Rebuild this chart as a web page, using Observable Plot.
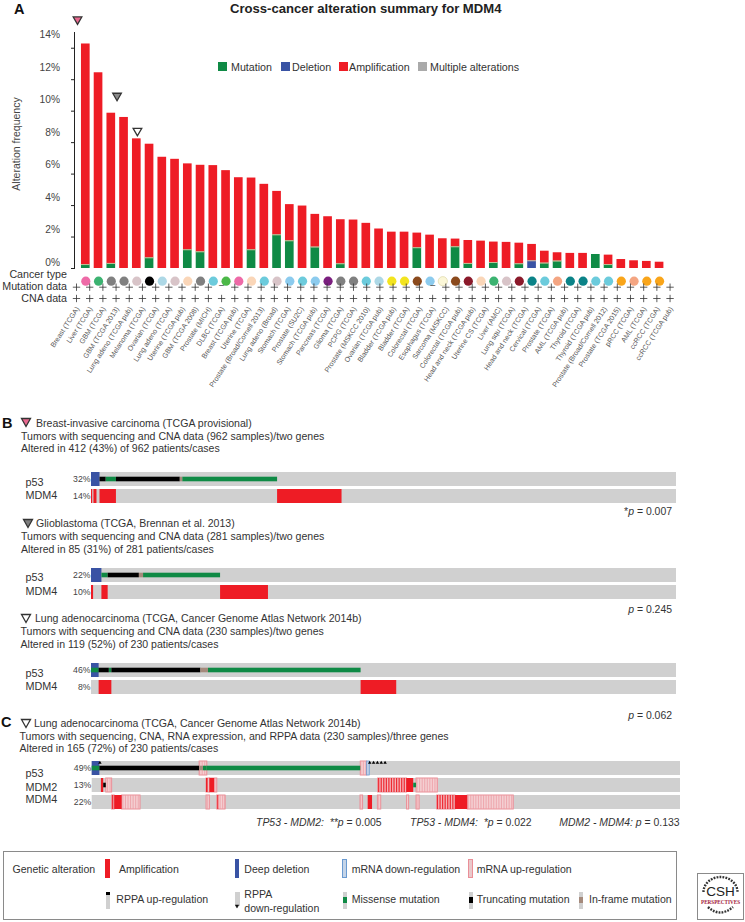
<!DOCTYPE html>
<html>
<head>
<meta charset="utf-8">
<script src="https://cdn.jsdelivr.net/npm/d3@7"></script>
<script src="https://cdn.jsdelivr.net/npm/@observablehq/plot@0.6"></script>
<style>
html,body{margin:0;padding:0;background:#fff;}
#page{position:relative;width:745px;height:922px;overflow:hidden;font-family:"Liberation Sans",Arial,sans-serif;color:#333;}
#page svg{position:absolute;}
.t{position:absolute;white-space:nowrap;line-height:1.2;transform:translateY(-50%);}
.s{position:absolute;box-sizing:border-box;}
</style>
</head>
<body>
<div id="page"></div>
<script>
// ---------- Panel A data ----------
const studies = ["Breast (TCGA)","Liver (TCGA)","GBM (TCGA)","GBM (TCGA 2013)","Lung adeno (TCGA pub)","Melanoma (TCGA)","Ovarian (TCGA)","Lung adeno (TCGA)","Uterine (TCGA pub)","GBM (TCGA 2008)","Prostate (MICH)","DLBC (TCGA)","Breast (TCGA pub)","Uterine (TCGA)","Prostate (Broad/Cornell 2013)","Lung adeno (Broad)","Stomach (TCGA)","Prostate (SU2C)","Stomach (TCGA pub)","Pancreas (TCGA)","Glioma (TCGA)","PCPG (TCGA)","Prostate (MSKCC 2010)","Ovarian (TCGA pub)","Bladder (TCGA pub)","Bladder (TCGA)","Colorectal (TCGA)","Esophagus (TCGA)","Sarcoma (MSKCC)","Colorectal (TCGA pub)","Head and neck (TCGA pub)","Uterine CS (TCGA)","Liver (AMC)","Lung squ (TCGA)","Head and neck (TCGA)","Cervical (TCGA)","Prostate (TCGA)","AML (TCGA pub)","Thyroid (TCGA)","Thyroid (TCGA pub)","Prostate (Broad/Cornell 2012)","Prostate (TCGA 2015)","pRCC (TCGA)","AML (TCGA)","ccRCC (TCGA)","ccRCC (TCGA pub)"];
const totals = [14.27,12.44,9.87,9.60,8.24,7.90,7.07,6.94,6.65,6.56,6.54,6.22,5.77,5.75,5.35,4.90,4.06,3.97,3.44,3.29,3.10,3.08,2.87,2.51,2.31,2.31,2.25,2.12,1.89,1.87,1.78,1.74,1.68,1.66,1.61,1.53,1.10,1.00,0.96,0.96,0.89,0.85,0.57,0.49,0.45,0.40];
const mutation = [0.25,0,0.32,0,0,0.68,0,0,1.19,1.06,0,0,0,1.19,0,2.14,1.76,0,1.36,0,0.30,0,0,0,0,0,1.32,0,0,1.38,0.32,0,0.38,0,0.30,0,0.34,0.47,0,0,0.89,0.25,0,0,0,0];
const deletion = [0,0,0,0,0,0,0,0,0,0,0,0,0,0,0,0,0,0,0,0,0,0,0,0,0,0,0,0,0,0,0,0,0,0,0,0.49,0,0,0,0,0,0,0,0,0,0];
const typeColors = ["#ee6aa7","#3cb371","#808080","#808080","#d8c4c8","#000000","#add8e6","#d8c4c8","#fad6b8","#808080","#6ccbdc","#4cb848","#ee6aa7","#fad6b8","#6ccbdc","#d8c4c8","#8ccbee","#6ccbdc","#8ccbee","#7b1f7f","#808080","#808080","#6ccbdc","#add8e6","#f3e41f","#f3e41f","#8b4a1d","#8ccbee","#fbf7d8","#8b4a1d","#8b1a2b","#fad6b8","#3cb371","#d8c4c8","#8b1a2b","#0b8388","#6ccbdc","#f4a582","#0b8388","#0b8388","#6ccbdc","#6ccbdc","#f9a51a","#f4a582","#f9a51a","#f9a51a"];
const noMutationData = [11,27];
const yTicks = [0,2,4,6,8,10,12,14];
const flags = [{i:-0.65,fill:"#e8688f",top:15.83},{i:2.45,fill:"#8a8a8a",top:10.98},{i:4.05,fill:"#ffffff",top:8.75}];

const RED="#ee1c25",GREEN="#0f8a45",BLUE="#3953a4",GRAY="#d0d0d0",BROWN="#a58a7c";

const stack = studies.flatMap((s,i)=>[
  {i,y1:0,y2:mutation[i],fill:GREEN},
  {i,y1:mutation[i],y2:mutation[i]+deletion[i],fill:BLUE},
  {i,y1:mutation[i]+deletion[i],y2:totals[i],fill:RED}
].filter(d=>d.y2>d.y1));

const page = document.getElementById("page");
const gridX = i => -0.729 + i*1.0345;   // the label/flag grid runs slightly wider than the bars
const plotStyle = {background:"transparent",overflow:"visible",fontFamily:"'Liberation Sans',Arial,sans-serif"};

const main = Plot.plot({
  width:745,height:400,marginTop:32,marginBottom:132,marginLeft:74,marginRight:0,
  style:plotStyle,
  x:{domain:[-0.886,51.74],axis:null},
  y:{domain:[0,15],axis:null},
  marks:[
    Plot.rect(stack,{x1:d=>d.i-0.34,x2:d=>d.i+0.34,y1:"y1",y2:"y2",fill:"fill"}),
    Plot.ruleY(stack.filter(d=>d.y1>0),{x1:d=>d.i-0.34,x2:d=>d.i+0.34,y:"y1",stroke:"#d9c6a0",strokeWidth:0.9}),
    Plot.frame({anchor:"left",stroke:"#222"}),
    Plot.axisY({ticks:yTicks,tickSize:3,tickFormat:()=>"",label:null,stroke:"#222"}),
    Plot.text(yTicks,{x:-0.886,y:d=>0.38+d*1.033,text:d=>d+"%",dx:-14.5,textAnchor:"end",fontSize:10.2,fill:"#444"}),
    Plot.dot(flags,{x:"i",y:"top",symbol:"triangle",rotate:180,r:3.2,fill:"fill",stroke:"#333",strokeWidth:1.3}),
    Plot.dot(studies,{x:(d,i)=>i,y:()=>0,dy:12.7,r:4.6,fill:(d,i)=>typeColors[i],stroke:(d,i)=>typeColors[i]==="#fbf7d8"?"#d8d2a0":"none",strokeWidth:0.6}),
    Plot.dot(studies.filter((d,i)=>!noMutationData.includes(i)),{x:d=>gridX(studies.indexOf(d)),y:()=>0,dy:18.7,symbol:"plus",r:2.5,stroke:"#333",strokeWidth:0.8}),
    Plot.text(noMutationData,{x:d=>gridX(d),y:()=>0,dy:17,text:()=>"–",fontSize:9,fill:"#333"}),
    Plot.dot(studies,{x:(d,i)=>gridX(i),y:()=>0,dy:30,symbol:"plus",r:2.5,stroke:"#333",strokeWidth:0.8}),
    Plot.text(studies,{x:(d,i)=>gridX(i),y:()=>0,dx:1.3,dy:39,text:d=>d,rotate:-57,textAnchor:"end",fontSize:7.1,fill:"#555"})
  ]
});
main.style.left="0";main.style.top="0";
page.appendChild(main);

// ---------- Panels B, C data: sample ranges [start, end, kind] along each patient axis ----------
const b1 = {n:962,genes:["p53","MDM4"],pct:["32%","14%"],p53:[[0,14,"del"],[14,24,"trunc"],[24,41,"miss"],[41,146,"trunc"],[146,150,"infr"],[150,306,"miss"]],MDM4:[[0,2,"amp"],[4,9,"amp"],[14,41,"amp"],[306,412,"amp"]]};
const b2 = {n:281,genes:["p53","MDM4"],pct:["22%","10%"],p53:[[0,5,"del"],[5,8,"miss"],[8,23,"trunc"],[23,25,"infr"],[25,62,"miss"]],MDM4:[[0,1,"amp"],[5,8,"amp"],[62,85,"amp"]]};
const b3 = {n:230,genes:["p53","MDM4"],pct:["46%","8%"],p53:[[0,3,"del"],[0,3,"miss"],[3,7,"trunc"],[7,8,"miss"],[8,43,"trunc"],[43,46,"infr"],[46,106,"miss"]],MDM4:[[3,8,"amp"],[106,120,"amp"]]};
const c1 = {n:230,genes:["p53","MDM2","MDM4"],pct:["49%","13%","22%"],
  p53:[[0,3,"del"],[0,3,"miss"],[3,42,"trunc"],[42,45,"up"],[42,43.5,"infr"],[43.5,45,"miss"],[45,105,"miss"],[105,107.5,"up"],[107.5,108.5,"down"]],
  MDM2:[[3.6,4.5,"amp"],[4.5,5.5,"trunc"],[5.5,7.8,"up"],[44.7,46,"up"],[44.7,45.3,"amp"],[46,48.9,"up"],[46,47.9,"amp"],[111.8,123.1,"upamp"],[123.1,125.7,"amp"],[125.7,126.8,"miss"],[126.8,135.1,"up"]],
  MDM4:[[7.8,8.8,"upamp"],[8.8,11.7,"amp"],[11.7,18.9,"up"],[44.7,46,"up"],[48.9,52.1,"up"],[49.1,49.5,"amp"],[104.9,105.9,"up"],[107.9,109.6,"amp"],[111.7,113,"up"],[123.1,123.9,"up"],[126.8,128,"up"],[134.9,142,"upamp"],[142,146.8,"amp"],[146.8,164.8,"up"]],
  rppa:[3,108.5,110,111.5,113,114.5]};

function track(d,{top,right,left=91,shift}){
  const rows = d.genes.flatMap(g=>d[g].map(([s,e,k])=>({gene:g,s,e,k})));
  const of = (...k)=>rows.filter(r=>k.includes(r.k));
  const stripes = k=>of(k).flatMap(r=>d3.range(Math.ceil(r.s),r.e).map(x=>({gene:r.gene,x})));
  const inner = {x1:"s",x2:"e",y:"gene",insetTop:4.7,insetBottom:4.7};
  const full = {x1:"s",x2:"e",y:"gene"};
  const p = Plot.plot({
    width:745,height:d.genes.length*17-3,marginTop:0,marginBottom:0,marginLeft:left,marginRight:745-right,style:plotStyle,
    x:{domain:[0,d.n],axis:null},
    y:{type:"band",domain:d.genes,paddingInner:3/17,paddingOuter:0,round:false,axis:null},
    marks:[
      Plot.barX(d.genes,{x1:()=>0,x2:()=>d.n,y:g=>g,fill:GRAY}),
      Plot.barX(of("up"),{...full,fill:"#f4cfd2",stroke:"#ea8f98",strokeWidth:1}),
      Plot.tickX(stripes("up"),{x:"x",y:"gene",stroke:"#ec9ca3",strokeWidth:0.8}),
      Plot.barX(of("upamp"),{...full,fill:"#f4b4b8",stroke:"#ea8f98",strokeWidth:1}),
      Plot.tickX(stripes("upamp"),{x:"x",y:"gene",stroke:"#ee2a32",strokeWidth:1.2}),
      Plot.barX(of("down"),{...full,fill:"#c4d4e8",stroke:"#6a9ad0",strokeWidth:0.8}),
      Plot.barX(of("amp"),{...full,fill:RED}),
      Plot.barX(of("del"),{...full,fill:BLUE}),
      Plot.barX(of("miss"),{...inner,fill:GREEN}),
      Plot.barX(of("trunc"),{...inner,fill:"#000"}),
      Plot.barX(of("infr"),{...inner,fill:BROWN}),
      Plot.dot((d.rppa||[]).map(x=>({x,gene:"p53"})),{x:"x",y:"gene",symbol:"triangle",r:1.3,fill:"#000",dy:-5.8}),
      Plot.text(d.genes,{x:()=>0,y:g=>g,text:(g,i)=>d.pct[i],dx:-1,textAnchor:"end",fontSize:8.7,fill:"#444"}),
      // gene names are set tighter than the tracks in the reference
      ...d.genes.map((g,i)=>Plot.text([g],{x:()=>0,y:v=>v,text:v=>v,dx:25-left,dy:shift[i],textAnchor:"start",fontSize:10.8,fill:"#333"}))
    ]
  });
  p.style.left="0";p.style.top=top+"px";
  page.appendChild(p);
}
track(b1,{top:472,right:676,shift:[3,-1]});
track(b2,{top:567.5,right:676,shift:[2.5,-1]});
track(b3,{top:663.3,right:676,shift:[2.7,-1.3]});
track(c1,{top:760.7,right:680,left:91.7,shift:[5.3,2,-3]});

// ---------- Text ----------
const FS=10.55;
function txt(s,x,y,size=FS,extra={}){
  const e=document.createElement("div");e.className="t";e.innerHTML=s;
  e.style.left=x+"px";e.style.top=y+"px";e.style.fontSize=size+"px";
  Object.assign(e.style,extra);page.appendChild(e);return e;
}
function tri(x,y,fill,k=1){
  const ns="http://www.w3.org/2000/svg",sv=document.createElementNS(ns,"svg");
  sv.setAttribute("width",12);sv.setAttribute("height",11);sv.style.left=(x-6)+"px";sv.style.top=(y-5.5)+"px";
  sv.innerHTML=`<polygon transform="translate(6,5.5) scale(${k}) translate(-6,-5.5)" points="1.5,1.5 10.5,1.5 6,9.5" fill="${fill}" stroke="#333" stroke-width="1.3"/>`;
  page.appendChild(sv);
}
txt("Cross-cancer alteration summary for MDM4",230,8.5,13.1,{fontWeight:"bold",color:"#222"});
txt("A",14,9.5,14.5,{fontWeight:"bold",color:"#111"});
txt("B",2,423.5,14.5,{fontWeight:"bold",color:"#111"});
txt("C",1,722.5,14.5,{fontWeight:"bold",color:"#111"});
txt("Alteration frequency",16,144,10.5,{transform:"translate(-50%,-50%) rotate(-90deg)",color:"#444"});
[["Cancer type",274],["Mutation data",286],["CNA data",297.7]].forEach(([s,y])=>txt(s,0,y,10.7,{left:"auto",right:(745-67)+"px"}));

const legendA=[["Mutation",GREEN,218,231],["Deletion",BLUE,281,292],["Amplification",RED,339,349],["Multiple alterations","#aaaaaa",418,430]];
legendA.forEach(([s,c,a,b])=>{
  const k=document.createElement("div");k.className="s";
  Object.assign(k.style,{left:a+"px",top:"62px",width:"9px",height:"9px",background:c});page.appendChild(k);
  txt(s,b,66.5,10.7);
});

const head=[
 [36,423,"Breast-invasive carcinoma (TCGA provisional)","#e8688f",25.7,422.5,21,436,448,
  "Tumors with sequencing and CNA data (962 samples)/two genes","Altered in 412 (43%) of 962 patients/cases"],
 [36,523,"Glioblastoma (TCGA, Brennan et al. 2013)","#7f7f7f",28,523.5,21,536,548.5,
  "Tumors with sequencing and CNA data (281 samples)/two genes","Altered in 85 (31%) of 281 patients/cases"],
 [35,618,"Lung adenocarcinoma (TCGA, Cancer Genome Atlas Network 2014b)","#fff",25.7,618,20.5,631,643.5,
  "Tumors with sequencing and CNA data (230 samples)/two genes","Altered in 119 (52%) of 230 patients/cases"],
 [34,723,"Lung adenocarcinoma (TCGA, Cancer Genome Atlas Network 2014b)","#fff",25.7,723,19.5,735.7,748,
  "Tumors with sequencing, CNA, RNA expression, and RPPA data (230 samples)/three genes","Altered in 165 (72%) of 230 patients/cases"]];
head.forEach(h=>{
  txt(h[2],h[0],h[1]);tri(h[4],h[5],h[3]);
  txt(h[9],h[6],h[7]);txt(h[10],h[6],h[8]);
});
const pv=[["*<i>p</i> = 0.007",512],["<i>p</i> = 0.245",609.5],["<i>p</i> = 0.062",716]];
pv.forEach(([s,y])=>txt(s,0,y,10.45,{left:"auto",right:(745-672)+"px"}));
txt("<i>TP53 - MDM2:&nbsp; **p</i> = 0.005",256,822.7,10.45);
txt("<i>TP53 - MDM4:&nbsp; *p</i> = 0.022",410,822.7,10.45);
txt("<i>MDM2 - MDM4: p</i> = 0.133",559.3,822.7,10.45);

// ---------- Legend box ----------
const box=document.createElement("div");box.className="s";
Object.assign(box.style,{left:"3px",top:"851px",width:"674px",height:"69px",border:"1.5px solid #8a8a8a"});page.appendChild(box);
txt("Genetic alteration",12.5,869);
function sw(x,w,top,h,bg,border,innerColor,innerTop,innerH){
  const k=document.createElement("div");k.className="s";
  Object.assign(k.style,{left:x+"px",top:top+"px",width:w+"px",height:h+"px",background:bg});
  if(border)k.style.border="1px solid "+border;
  page.appendChild(k);
  if(innerColor){const m=document.createElement("div");m.className="s";
    Object.assign(m.style,{left:x+"px",top:(top+innerTop)+"px",width:w+"px",height:innerH+"px",background:innerColor});page.appendChild(m);}
}
sw(105,4.5,859,19,RED);txt("Amplification",119,869);
sw(234.5,4.5,859,19,BLUE);txt("Deep deletion",244.3,869);
sw(341.7,5.6,859,19,"#c4d4e8","#6a9ad0");txt("mRNA down-regulation",351.7,869);
sw(467.7,5.6,859,19,"#e9c9cb","#ea8f98");txt("mRNA up-regulation",476.7,869);
sw(105.5,4.5,891.5,17,GRAY,null,"#000",0,3);txt("RPPA up-regulation",116.3,899);
sw(235,4.5,891.5,14,GRAY);tri(237.2,906.5,"#000",0.4);
txt("RPPA",244.3,894.3);txt("down-regulation",244.3,907.5);
sw(343.3,4,891.5,17,GRAY,null,GREEN,5.5,6);txt("Missense mutation",351.7,899);
sw(469,4.3,891.5,17,GRAY,null,"#000",5.5,6);txt("Truncating mutation",476.7,899);
sw(579,4.3,891.5,17,GRAY,null,BROWN,5.5,6);txt("In-frame mutation",589,899);

// ---------- Logo ----------
const ns="http://www.w3.org/2000/svg",logo=document.createElementNS(ns,"svg");
logo.setAttribute("width",47);logo.setAttribute("height",47);logo.style.left="697px";logo.style.top="872.5px";
logo.innerHTML=`<rect x="0.5" y="0.5" width="46" height="46" fill="#fff" stroke="#8a8a8a"/>
<path d="M6.5 19 A17 15 0 0 1 40.5 19" fill="none" stroke="#333" stroke-width="2.4" stroke-dasharray="1.8 1.2"/>
<path d="M11 34 Q23 45 36 34" fill="none" stroke="#333" stroke-width="2.4" stroke-dasharray="1.8 1.2"/>
<text x="23.5" y="23" text-anchor="middle" font-family="Liberation Sans" font-size="13.5" fill="#222">CSH</text>
<text x="23.5" y="30.5" text-anchor="middle" font-family="Liberation Serif" font-weight="bold" font-size="5.6" textLength="39" lengthAdjust="spacingAndGlyphs" fill="#a3213a">PERSPECTIVES</text>`;
page.appendChild(logo);
</script>
</body>
</html>
